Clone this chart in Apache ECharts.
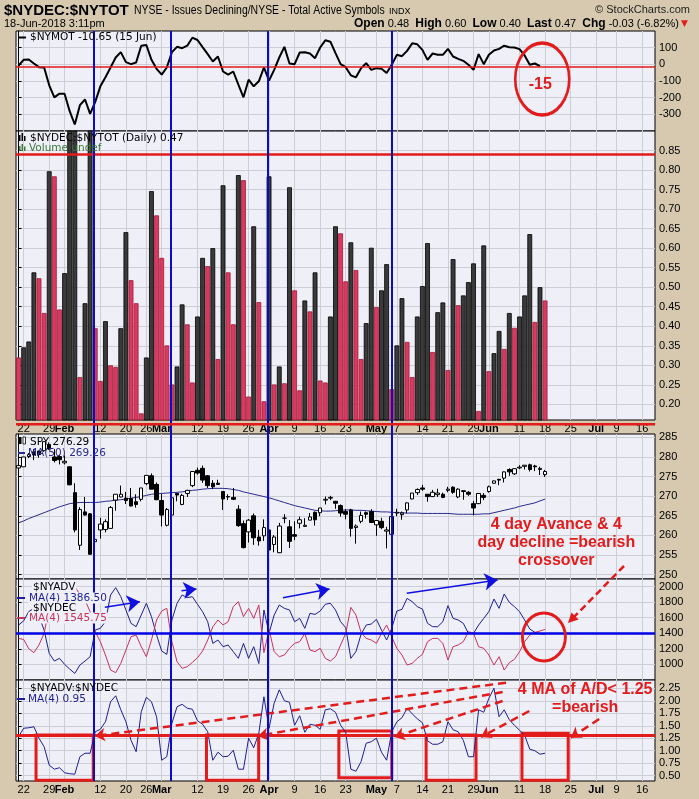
<!DOCTYPE html>
<html><head><meta charset="utf-8">
<script src="https://cdn.jsdelivr.net/npm/echarts@6/dist/echarts.min.js"></script>
<style>html,body{margin:0;padding:0;background:#D6C9AF}#c{width:699px;height:799px}</style>
</head><body><div id="c"></div>
<script>
// ---------- x axis (trading-day index; 0 = 19 Jan 2018, 103 = 18 Jun 2018) ----------
const xTickIdx  = [1, 6, 9, 16, 21, 25, 28, 35, 40, 45, 49, 54, 59, 64, 70, 74, 79, 84, 89, 92, 98, 103, 108, 113, 117, 122];
const xTickText = ['22','29','Feb','12','20','26','Mar','12','19','26','Apr','9','16','23','May','7','14','21','29','Jun','11','18','25','Jul','9','16'];
const monthNames = ['Feb','Mar','Apr','May','Jun','Jul'];

// ---------- tick labels ----------
const nymotTicks = [-300, -200, -100, 0, 100];
const ratioTicks = [0.20,0.25,0.30,0.35,0.40,0.45,0.50,0.55,0.60,0.65,0.70,0.75,0.80,0.85];
const spyTicks   = [250,255,260,265,270,275,280,285];
const adTicks    = [1000,1200,1400,1600,1800,2000];
const adrTicks   = [0.50,0.75,1.00,1.25,1.50,1.75,2.00,2.25];

// ---------- $NYMOT ----------
const nymot = [-7,27,29,5,-17,-19,-126,-198,-176,-176,-281,-361,-245,-211,-297,-225,-132,-78,-19,41,
73,13,1,11,112,116,27,-27,-62,-19,73,105,97,112,160,146,103,61,17,47,
-43,-62,-43,-122,-198,-92,-132,-102,-19,-98,-33,41,105,5,1,71,73,65,37,101,
144,136,67,1,-17,-66,-78,-23,7,-33,-23,-27,-52,-3,57,49,81,126,120,87,
27,65,57,57,93,47,33,21,-3,-33,61,1,57,83,93,112,103,101,91,53,-3,5,-10.65];

// ---------- $NYDEC:$NYTOT daily ----------
const ratioPrev = 0.37;
const ratio = [0.320,0.346,0.361,0.538,0.523,0.434,0.797,0.784,0.443,0.536,
0.92,0.93,0.270,0.459,0.95,0.395,0.260,0.413,0.300,0.296,
0.395,0.641,0.518,0.459,0.177,0.320,0.746,0.684,0.575,0.351,
0.251,0.297,0.456,0.405,0.256,0.425,0.575,0.554,0.600,0.316,
0.761,0.538,0.405,0.787,0.774,0.220,0.656,0.462,0.208,0.784,
0.251,0.297,0.254,0.756,0.492,0.236,0.466,0.438,0.538,0.261,
0.256,0.425,0.656,0.638,0.515,0.615,0.544,0.316,0.408,0.601,
0.449,0.492,0.559,0.239,0.351,0.472,0.360,0.270,0.425,0.503,
0.613,0.334,0.436,0.461,0.288,0.572,0.454,0.479,0.513,0.561,
0.183,0.607,0.285,0.331,0.388,0.342,0.434,0.396,0.425,0.479,
0.636,0.411,0.500,0.466];

// ---------- SPY (open, high, low, close) ----------
const spyO = [277.2,277.5,280.1,281.3,281.5,281.6,283.2,280.0,280.1,278.5,277.5,270.9,257.5,266.0,265.5,258.4,261.4,261.5,261.8,269.0,
269.8,269.5,269.4,268.6,269.2,273.2,275.2,273.0,268.9,262.6,265.2,270.7,267.9,270.7,272.7,276.6,277.1,275.2,273.3,273.3,
271.2,269.9,269.7,266.7,263.0,260.9,265.0,259.6,259.9,261.4,257.7,255.6,264.4,262.2,260.2,263.1,262.3,263.9,265.9,265.8,
269.0,269.5,268.7,267.6,266.1,266.5,262.0,263.6,265.8,266.1,262.7,263.6,261.1,260.3,265.7,265.3,266.5,269.3,270.9,272.1,
270.5,269.9,270.4,270.5,271.5,272.3,269.8,271.4,271.0,268.1,268.1,270.2,271.2,273.3,274.3,274.6,276.8,275.7,277.2,277.6,
278.0,277.7,276.8,275.5];
const spyH = [277.8,280.0,281.0,282.0,281.6,283.9,283.7,282.0,280.6,280.4,277.6,273.3,267.2,269.8,265.7,261.1,264.5,264.1,267.5,270.5,
272.7,271.1,272.1,270.5,272.1,275.3,275.8,273.5,270.6,267.0,270.8,270.8,270.6,271.6,276.3,277.3,277.8,275.4,274.1,274.2,
271.3,270.5,272.1,267.7,263.8,264.2,265.6,261.4,264.1,261.9,260.1,263.2,265.4,263.9,263.6,264.8,264.4,265.7,266.1,267.0,
269.9,270.1,268.8,267.9,266.7,266.8,262.8,266.1,266.1,266.7,263.9,264.5,262.2,265.6,266.8,266.1,268.4,270.8,272.0,272.9,
270.5,271.6,271.9,270.9,272.4,272.5,272.0,271.5,271.3,268.8,270.8,270.8,272.7,274.0,274.4,276.3,277.1,277.1,277.9,277.9,
278.3,278.0,277.5,276.7];
const spyL = [276.5,277.5,279.7,279.2,279.8,281.3,281.8,278.6,278.1,278.1,272.8,260.8,256.3,265.1,255.2,250.5,259.2,260.8,261.8,266.3,
269.7,268.0,267.4,267.1,268.7,272.8,271.8,269.0,262.3,262.3,264.5,268.7,267.7,269.8,272.3,275.5,273.4,272.1,271.8,272.9,
266.5,269.0,269.0,262.2,256.7,258.2,257.6,257.4,258.6,253.5,255.7,255.5,263.1,256.8,258.8,261.8,262.2,263.9,262.5,264.9,
267.9,269.0,266.8,264.8,264.1,259.7,257.9,263.1,264.3,263.2,259.9,261.6,256.7,260.0,264.9,264.0,265.6,269.2,270.3,271.4,
268.6,269.8,269.8,269.5,271.0,270.6,269.5,269.1,270.1,265.1,268.0,269.0,270.9,273.2,272.8,273.5,275.2,275.4,276.9,276.8,
276.3,276.4,275.4,274.9];
const spyC = [277.8,280.0,280.6,280.5,280.6,283.9,282.0,279.1,279.3,278.9,272.9,261.4,266.6,265.2,255.2,259.0,262.9,263.5,267.1,270.5,
270.5,268.9,267.5,267.9,272.1,275.3,271.8,269.1,265.2,266.6,269.6,270.3,270.2,271.5,276.3,275.9,274.1,272.7,272.4,273.0,
269.3,269.8,269.2,262.5,256.9,263.9,259.4,258.6,262.0,256.3,259.6,262.4,264.4,258.5,259.8,264.0,262.6,264.7,264.0,267.0,
269.2,269.7,268.2,265.7,265.4,261.8,262.4,265.1,265.4,263.3,263.8,262.0,261.4,264.8,265.9,265.7,268.3,270.8,271.7,271.8,
269.9,271.0,270.8,269.7,271.8,271.0,271.8,271.2,270.5,267.0,270.7,269.7,272.4,273.9,274.1,276.2,276.2,277.0,277.4,277.9,
276.8,277.5,277.1,276.3];
const ma50 = [263.2,263.7,264.3,264.8,265.3,265.8,266.3,266.8,267.3,267.7,268.1,268.3,268.4,268.4,268.4,268.4,268.5,268.7,268.8,269.0,
269.1,269.3,269.5,269.7,269.9,270.2,270.5,270.6,270.7,270.8,270.9,271.0,271.1,271.3,271.5,271.6,271.8,271.9,272.0,272.0,
272.0,271.9,271.7,271.5,271.1,270.8,270.5,270.2,269.9,269.6,269.2,268.8,268.4,268.0,267.6,267.3,267.0,266.7,266.4,266.3,
266.2,266.2,266.3,266.4,266.5,266.5,266.4,266.4,266.3,266.2,266.1,266.0,266.0,265.9,265.8,265.8,265.7,265.7,265.7,265.6,
265.6,265.6,265.6,265.6,265.6,265.5,265.4,265.4,265.4,265.4,265.4,265.5,265.5,265.8,266.1,266.4,266.7,267.0,267.4,267.7,
268.0,268.3,268.8,269.26];

// ---------- $NYADV MA(4) and $NYDEC MA(4) ----------
const adv4 = [1506,1560,1680,1720,1620,1440,1141,1042,1077,1000,939,883,991,1042,1098,1442,1463,1550,1893,1988,
1872,1700,1528,1485,1635,1786,1614,1378,1171,1128,1571,1786,1893,1859,1871,1773,1678,1549,1270,1313,
1227,1249,1163,1077,1270,1077,1227,1010,1700,1400,1635,1764,1721,1700,1549,1592,1463,1657,1643,1686,
1773,1786,1700,1549,1472,1077,1163,1386,1506,1519,1579,1442,1313,1463,1686,1708,1850,1807,1743,1712,
1528,1485,1485,1549,1756,1592,1571,1528,1399,1399,1506,1592,1678,1841,1721,1906,1798,1743,1678,1571,
1455,1412,1395,1386.5];
const dec4 = [1334,1320,1200,1150,1250,1400,1730,1830,1800,1880,1940,2000,1900,1828,1678,1420,1292,1120,927,892,
1012,1184,1356,1377,1227,1098,1313,1571,1687,1721,1292,1034,948,970,1025,1085,1171,1313,1484,1571,
1507,1549,1743,1807,1614,1721,1592,1764,1150,1450,1163,1098,1120,1206,1270,1292,1399,1184,1163,1206,
1077,1042,1098,1249,1399,1734,1635,1412,1334,1313,1270,1399,1506,1356,1206,1120,991,1012,1077,1128,
1292,1334,1334,1270,1055,1227,1249,1292,1420,1399,1227,1206,1120,991,1098,926,1021,1064,1163,1292,
1377,1412,1429,1450];

// ---------- $NYADV:$NYDEC MA(4) ----------
const adRatio4 = [1.28,1.45,1.46,1.48,1.25,1.08,0.71,0.63,0.66,0.56,0.54,0.53,0.88,0.95,0.95,1.38,1.43,1.58,1.98,2.10,
1.82,1.58,1.21,0.98,1.78,2.07,1.98,1.68,0.81,0.88,1.55,1.88,1.93,1.85,1.83,1.60,1.53,1.38,0.81,0.97,
0.88,0.89,1.01,0.63,0.63,1.25,1.06,1.35,2.08,1.45,1.95,2.22,2.00,1.97,1.51,1.70,1.37,1.53,1.51,1.43,
1.82,1.84,1.77,1.51,1.37,0.63,0.59,0.78,1.15,1.18,1.25,0.97,0.81,1.38,1.58,1.66,1.85,1.74,1.64,1.56,
1.20,1.13,1.13,1.18,1.58,1.42,1.38,1.21,0.88,0.88,1.82,1.77,2.05,2.25,1.68,1.82,1.62,1.51,1.41,1.31,
1.03,1.00,0.93,0.95];

// ---------- hand-drawn annotation positions (in each panel's own date-index / value units) ----------
const blueDays = [14.75, 29.75, 48.75, 73.0];
const boxes5 = [[3.42,1.315,14.61,0.41],[36.76,1.315,46.97,0.41],[62.66,1.395,73.01,0.46],[79.73,1.315,89.49,0.41],[98.48,1.349,107.52,0.41]];
const arrows5 = [[95.35,2.362,14.94,1.295],[94.69,2.176,46.84,1.295],[94.69,1.996,73.54,1.275],[99.9,1.795,90.47,1.275],[113.57,1.635,108.05,1.261]];
const arrows4 = [[16.89,1734,23.73,1807],[31.88,1948,34.8,1970],[51.72,1858,60.84,1970],[75.94,1915,93.71,2086]];

// ---------- styling ----------
const FONT = 'Liberation Sans';
const plotBg = '#EEEFF7';
const gridCol = '#CDCDD6';
const RED = '#E31B1B';
const NAVY = '#1E1E96';

const panels = [
  {top: 31, height: 100}, {top: 131, height: 289}, {top: 434, height: 145},
  {top: 579, height: 101}, {top: 680, height: 101}
];
const grids = panels.map(p => ({left: 16, right: 44, top: p.top, height: p.height, show: true,
  backgroundColor: plotBg, borderColor: '#000', borderWidth: 1}));
grids.push({left: 16, right: 44, top: 31, height: 750, show: false});

function xLabel(v) {
  const k = xTickIdx.indexOf(Math.round(v));
  if (k < 0) return '';
  const t = xTickText[k];
  return monthNames.indexOf(t) >= 0 ? '{m|' + t + '}' : t;
}
function xAx(gi, showLab) {
  return {type: 'value', gridIndex: gi, min: -0.5, max: 124.5, show: gi < 5,
    axisLine: {show: false},
    axisTick: {show: false, customValues: xTickIdx},
    axisLabel: {show: showLab, customValues: xTickIdx, formatter: xLabel, margin: 3,
      fontSize: 11, color: '#000', fontFamily: FONT, rich: {m: {fontWeight: 'bold', fontSize: 11, fontFamily: FONT}}},
    splitLine: {show: true, lineStyle: {color: gridCol, width: 1}}};
}
function yAx(gi, min, max, ticks, fmt) {
  return {type: 'value', gridIndex: gi, position: 'right', min: min, max: max,
    axisLine: {show: true, lineStyle: {color: '#000'}},
    axisTick: {show: true, customValues: ticks, length: 3, lineStyle: {color: '#000'}},
    axisLabel: {customValues: ticks, formatter: fmt, fontSize: 11, color: '#000', margin: 4, fontFamily: FONT},
    splitLine: {show: true, lineStyle: {color: gridCol, width: 1}}};
}
const idx = arr => arr.map((v, i) => [i, v]);

const barData = ratio.map((v, i) => {
  const prev = i === 0 ? ratioPrev : ratio[i - 1];
  const up = v >= prev;
  return {value: [i, v], itemStyle: up
    ? {color: '#3A3A3A', borderColor: '#000', borderWidth: 0.8}
    : {color: '#D93B60', borderColor: '#A5183A', borderWidth: 0.8}};
});
const candleData = spyO.map((o, i) => [i, o, spyC[i], spyL[i], spyH[i]]);

const noMark = {silent: true, symbol: ['none', 'none'], label: {show: false}, animation: false};

const option = {
  animation: false,
  backgroundColor: '#D6C9AF',
  textStyle: {fontFamily: FONT},
  grid: grids,
  xAxis: [xAx(0, false), xAx(1, true), xAx(2, false), xAx(3, false), xAx(4, true), xAx(5, false)],
  yAxis: [
    yAx(0, -400, 200, nymotTicks, v => String(v)),
    yAx(1, 0.16, 0.90, ratioTicks, v => v.toFixed(2)),
    yAx(2, 248.9, 285.85, spyTicks, v => String(v)),
    yAx(3, 798, 2099, adTicks, v => String(v)),
    yAx(4, 0.394, 2.416, adrTicks, v => v.toFixed(2)),
    {type: 'value', gridIndex: 5, min: 0, max: 1, show: false}
  ],
  series: [
    {type: 'line', xAxisIndex: 0, yAxisIndex: 0, data: idx(nymot), showSymbol: false,
      lineStyle: {color: '#000', width: 2}, z: 3,
      markLine: Object.assign({}, noMark, {lineStyle: {color: RED, width: 1.5, type: 'solid'}, data: [{yAxis: -12}]}),
      markPoint: {silent: true, animation: false, data: [{coord: [102.44, -88], symbol: 'circle', symbolSize: [54, 72],
        itemStyle: {color: 'rgba(0,0,0,0)', borderColor: RED, borderWidth: 3},
        label: {show: true, formatter: '-15', position: 'inside', offset: [-2, 6], color: RED, fontSize: 16, fontWeight: 'bold', fontFamily: FONT}}]}
    },
    {type: 'bar', xAxisIndex: 1, yAxisIndex: 1, data: barData, barWidth: 4.8, z: 2,
      markLine: Object.assign({}, noMark, {lineStyle: {color: RED, width: 2.5, type: 'solid'}, data: [{yAxis: 0.8445}]})
    },
    {type: 'candlestick', xAxisIndex: 2, yAxisIndex: 2, data: candleData, encode: {x: 0, y: [1, 2, 3, 4]},
      barWidth: 4, z: 3,
      itemStyle: {color: '#FFFFFF', color0: '#000000', borderColor: '#000000', borderColor0: '#000000', borderWidth: 1},
      markPoint: {silent: true, animation: false, data: [{coord: [105.2, 258.1], symbol: 'rect', symbolSize: 1,
        itemStyle: {color: 'rgba(0,0,0,0)'},
        label: {show: true, position: 'inside', formatter: '4 day Avance & 4\nday decline =bearish\ncrossover',
          color: RED, fontSize: 16, fontWeight: 'bold', lineHeight: 18, align: 'center', fontFamily: FONT}}]}
    },
    {type: 'line', xAxisIndex: 2, yAxisIndex: 2, data: idx(ma50), showSymbol: false,
      lineStyle: {color: '#2A2A8C', width: 1}, z: 2},
    {type: 'line', xAxisIndex: 3, yAxisIndex: 3, data: idx(adv4), showSymbol: false,
      lineStyle: {color: NAVY, width: 1}, z: 3,
      markLine: Object.assign({}, noMark, {data: [{yAxis: 1400, lineStyle: {color: '#0000E6', width: 2.5, type: 'solid'}}]
        .concat(arrows4.map(a => [{coord: [a[0], a[1]], symbol: 'none'},
          {coord: [a[2], a[3]], symbol: 'arrow', symbolSize: 13, lineStyle: {color: '#1010E0', width: 1.5, type: 'solid'}}]))}),
      markPoint: {silent: true, animation: false, data: [{coord: [102.77, 1352], symbol: 'circle', symbolSize: [43, 48],
        itemStyle: {color: 'rgba(0,0,0,0)', borderColor: RED, borderWidth: 3}, label: {show: false}}]}
    },
    {type: 'line', xAxisIndex: 3, yAxisIndex: 3, data: idx(dec4), showSymbol: false,
      lineStyle: {color: '#C8325A', width: 1}, z: 3},
    {type: 'line', xAxisIndex: 4, yAxisIndex: 4, data: idx(adRatio4), showSymbol: false,
      lineStyle: {color: NAVY, width: 1}, z: 3,
      markLine: Object.assign({}, noMark, {data: [{yAxis: 1.315, lineStyle: {color: RED, width: 3, type: 'solid'}}]
        .concat(arrows5.map(a => [{coord: [a[0], a[1]], symbol: 'none'},
          {coord: [a[2], a[3]], symbol: 'arrow', symbolSize: 10, lineStyle: {color: RED, width: 2.5, type: [8, 5]}}]))}),
      markArea: {silent: true, animation: false,
        itemStyle: {color: 'rgba(0,0,0,0)', borderColor: RED, borderWidth: 3},
        data: boxes5.map(b => [{coord: [b[0], b[1]]}, {coord: [b[2], b[3]]}])},
      markPoint: {silent: true, animation: false, data: [{coord: [110.84, 2.036], symbol: 'rect', symbolSize: 1,
        itemStyle: {color: 'rgba(0,0,0,0)'},
        label: {show: true, position: 'inside', formatter: '4 MA of A/D< 1.25\n=bearish',
          color: RED, fontSize: 16, fontWeight: 'bold', lineHeight: 18, align: 'center', fontFamily: FONT}}]}
    },
    {type: 'line', xAxisIndex: 5, yAxisIndex: 5, data: [], showSymbol: false,
      markLine: Object.assign({}, noMark, {z: 20, lineStyle: {color: '#0A0AC8', width: 2, type: 'solid'},
        data: blueDays.map(d => ({xAxis: d}))})}
  ],
  graphic: [
    // header
    {type: 'text', x: 4, y: 11, z: 100, style: {text: '$NYDEC:$NYTOT', font: 'bold 15px "Liberation Sans"', fill: '#000', verticalAlign: 'middle'}},
    {type: 'text', x: 134, y: 11, z: 100, scaleX: 0.87, originX: 0, originY: 0, style: {text: 'NYSE - Issues Declining/NYSE - Total Active Symbols', font: '12px "Liberation Sans"', fill: '#000', verticalAlign: 'middle'}},
    {type: 'text', x: 389, y: 12, z: 100, style: {text: 'INDX', font: '9px "Liberation Sans"', fill: '#000', verticalAlign: 'middle'}},
    {type: 'text', x: 690, y: 10, z: 100, style: {text: '© StockCharts.com', font: '11px "Liberation Sans"', fill: '#222', align: 'right', verticalAlign: 'middle'}},
    {type: 'text', x: 4, y: 24, z: 100, style: {text: '18-Jun-2018 3:11pm', font: '11px "Liberation Sans"', fill: '#000', verticalAlign: 'middle'}},
    {type: 'text', x: 679, y: 24, z: 100, style: {text: '{b|Open} 0.48  {b|High} 0.60  {b|Low} 0.40  {b|Last} 0.47  {b|Chg} -0.03 (-6.82%)',
      font: '11px "Liberation Sans"', fill: '#000', align: 'right', verticalAlign: 'middle',
      rich: {b: {font: 'bold 12px "Liberation Sans"', fill: '#000'}}}},
    {type: 'text', x: 681, y: 24, z: 100, style: {text: '▼', font: '9px "DejaVu Sans"', fill: RED, verticalAlign: 'middle'}},
    // red line drawn along the date strip under the ratio panel
    {type: 'line', z: 100, shape: {x1: 16, y1: 424.3, x2: 655, y2: 424.3}, style: {stroke: RED, lineWidth: 2.5}},
    // P1 legend
    {type: 'line', z: 100, shape: {x1: 19, y1: 37.5, x2: 26, y2: 37.5}, style: {stroke: '#000', lineWidth: 2}},
    {type: 'text', x: 30, y: 37.5, z: 100, style: {text: '$NYMOT -10.65 (15 Jun)', font: '10.5px "DejaVu Sans"', fill: '#000', verticalAlign: 'middle'}},
    // P2 legend
    {type: 'rect', z: 100, shape: {x: 19, y: 135, width: 1.5, height: 6}, style: {fill: '#000'}},
    {type: 'rect', z: 100, shape: {x: 21.5, y: 133, width: 1.5, height: 8}, style: {fill: '#000'}},
    {type: 'rect', z: 100, shape: {x: 24, y: 136, width: 1.5, height: 5}, style: {fill: '#000'}},
    {type: 'text', x: 30, y: 138.5, z: 100, style: {text: '$NYDEC:$NYTOT (Daily) 0.47', font: '10.5px "DejaVu Sans"', fill: '#000', verticalAlign: 'middle'}},
    {type: 'rect', z: 100, shape: {x: 19, y: 146, width: 1.5, height: 5}, style: {fill: '#3C7A3C'}},
    {type: 'rect', z: 100, shape: {x: 21.5, y: 144, width: 1.5, height: 7}, style: {fill: '#3C7A3C'}},
    {type: 'rect', z: 100, shape: {x: 24, y: 146.5, width: 1.5, height: 4.5}, style: {fill: '#3C7A3C'}},
    {type: 'text', x: 29, y: 148.5, z: 100, style: {text: 'Volume undef', font: '10.5px "DejaVu Sans"', fill: '#3C7A3C', verticalAlign: 'middle'}},
    // P3 legend
    {type: 'rect', z: 100, shape: {x: 19, y: 438, width: 2.5, height: 6}, style: {fill: '#000'}},
    {type: 'rect', z: 100, shape: {x: 23, y: 437, width: 2.5, height: 7}, style: {fill: '#fff', stroke: '#000', lineWidth: 0.8}},
    {type: 'text', x: 30, y: 442, z: 100, style: {text: 'SPY 276.29', font: '10.5px "DejaVu Sans"', fill: '#000', verticalAlign: 'middle'}},
    {type: 'line', z: 100, shape: {x1: 18, y1: 453, x2: 25, y2: 453}, style: {stroke: '#2A2A8C', lineWidth: 2}},
    {type: 'text', x: 28, y: 453, z: 100, style: {text: 'MA(50) 269.26', font: '10.5px "DejaVu Sans"', fill: '#2A2A8C', verticalAlign: 'middle'}},
    // P4 legend
    {type: 'text', x: 32, y: 587.5, z: 100, style: {text: '$NYADV', font: '10.5px "DejaVu Sans"', fill: '#000', verticalAlign: 'middle', backgroundColor: plotBg, padding: [0, 1]}},
    {type: 'line', z: 100, shape: {x1: 17, y1: 598, x2: 25, y2: 598}, style: {stroke: NAVY, lineWidth: 2}},
    {type: 'text', x: 28, y: 598, z: 100, style: {text: 'MA(4) 1386.50', font: '10.5px "DejaVu Sans"', fill: NAVY, verticalAlign: 'middle', backgroundColor: plotBg, padding: [0, 1]}},
    {type: 'text', x: 32, y: 608, z: 100, style: {text: '$NYDEC', font: '10.5px "DejaVu Sans"', fill: '#000', verticalAlign: 'middle', backgroundColor: plotBg, padding: [0, 1]}},
    {type: 'line', z: 100, shape: {x1: 17, y1: 618, x2: 25, y2: 618}, style: {stroke: '#C8325A', lineWidth: 2}},
    {type: 'text', x: 28, y: 618, z: 100, style: {text: 'MA(4) 1545.75', font: '10.5px "DejaVu Sans"', fill: '#C8325A', verticalAlign: 'middle', backgroundColor: plotBg, padding: [0, 1]}},
    // P5 legend
    {type: 'text', x: 30, y: 688, z: 100, style: {text: '$NYADV:$NYDEC', font: '10.5px "DejaVu Sans"', fill: '#000', verticalAlign: 'middle'}},
    {type: 'line', z: 100, shape: {x1: 17, y1: 699, x2: 25, y2: 699}, style: {stroke: NAVY, lineWidth: 2}},
    {type: 'text', x: 28, y: 699, z: 100, style: {text: 'MA(4) 0.95', font: '10.5px "DejaVu Sans"', fill: NAVY, verticalAlign: 'middle'}},
    // dashed red arrow from the callout text down to the circled crossover
    {type: 'line', z: 100, shape: {x1: 624, y1: 566, x2: 572, y2: 619}, style: {stroke: RED, lineWidth: 2.5, lineDash: [7, 4]}},
    {type: 'polygon', z: 100, shape: {points: [[568, 623], [578.6, 619.4], [571.4, 612.4]]}, style: {fill: RED}}
  ]
};
const chart = echarts.init(document.getElementById('c'), null, {renderer: 'canvas'});
chart.setOption(option);
</script></body></html>
